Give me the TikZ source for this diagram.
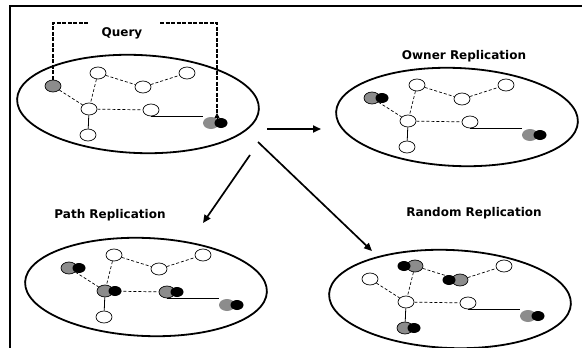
\documentclass[tikz,border=0pt]{standalone}
\usepackage{fontspec}
\newfontfamily\labelfont{DejaVu Sans}
\usetikzlibrary{shapes.geometric,arrows.meta,calc}

\tikzset{
  ring/.style={draw, ellipse, line width=1.8pt, minimum width=242pt, minimum height=98pt, inner sep=0pt, rotate=-2.4},
  peer/.style={draw, ellipse, line width=0.7pt, fill=white, minimum width=16pt, minimum height=12pt, inner sep=0pt},
  holder/.style={peer, fill={rgb,255:red,140;green,140;blue,140}},
  replica/.style={ellipse, fill=black, minimum width=13pt, minimum height=10pt, inner sep=0pt},
  link/.style={line width=0.7pt, dash pattern=on 3pt off 2pt},
  solidlink/.style={line width=0.8pt},
  datalink/.style={line width=1.1pt},
  querypath/.style={line width=1.1pt, dash pattern=on 4pt off 1.5pt},
  flow/.style={line width=1.7pt, -{Triangle[length=8pt,width=7pt]}},
  caption/.style={font=\labelfont\bfseries\fontsize{12}{14}\selectfont, inner sep=0pt},
  frame/.style={line width=1.6pt}
}

% overlay links between the peers of one network
\newcommand{\netlinks}[1]{%
  \draw[link] (#1a) -- (#1e);
  \draw[link] (#1b) -- (#1e);
  \draw[link] (#1b) -- (#1c);
  \draw[link] (#1c) -- (#1d);
  \draw[link] (#1e) -- (#1f);
  \draw[solidlink] (#1e) -- (#1g);
  \draw[datalink] (#1f.south) -- (#1f.south -| #1h.west);
}

\begin{document}
\begin{tikzpicture}[x=1pt, y=-1pt]
\useasboundingbox (0,0) rectangle (582,348);

% frame
\coordinate (fl) at (10,348);
\coordinate (ftl) at (10,6);
\coordinate (ftr) at (582,6);
\draw[frame] (fl) -- (ftl) -- (ftr);

% ---------- initial query ----------
\node[ring] (ring1) at (138,104) {};
\node[holder] (n1a) at (53,86) {};
\node[peer] (n1b) at (98,73) {};
\node[peer] (n1c) at (143,87) {};
\node[peer] (n1d) at (187,73) {};
\node[peer] (n1e) at (89,109) {};
\node[peer] (n1f) at (151,110) {};
\node[peer] (n1g) at (88,135) {};
\node[holder, draw=none] (n1h) at (211,123) {};
\node[replica] (n1hr) at ([xshift=10pt]n1h.center) {};
\netlinks{n1}

\node[caption] (query) at (122,33) {Query};
\coordinate (qa) at (53,23);
\coordinate (qb) at (88,23);
\coordinate (qc) at (160,23);
\coordinate (qd) at (217,23);
\coordinate (qe) at (217,113);
\draw[querypath] (n1a.north) -- (qa) -- (qb);
\draw[querypath] (qc) -- (qd) -- (qe);
\draw[line width=0.8pt, -{Triangle[length=5pt,width=5pt]}] ([yshift=-6pt]qe) -- (qe);

% ---------- owner replication ----------
\node[caption] (owner) at (464,56) {Owner Replication};
\begin{scope}[shift={(319,12)}]
\node[ring] (ring2) at (138,105) {};
\node[holder] (n2a) at (53,86) {};
\node[peer] (n2b) at (98,73) {};
\node[peer] (n2c) at (143,87) {};
\node[peer] (n2d) at (187,73) {};
\node[peer] (n2e) at (89,109) {};
\node[peer] (n2f) at (151,110) {};
\node[peer] (n2g) at (88,135) {};
\node[holder, draw=none] (n2h) at (211,123) {};
\node[replica] (n2ar) at ([xshift=10pt]n2a.center) {};
\node[replica] (n2hr) at ([xshift=10pt]n2h.center) {};
\netlinks{n2}
\end{scope}

% ---------- path replication ----------
\node[caption] (path) at (110,215) {Path Replication};
\begin{scope}[shift={(16,182)}]
\node[ring] (ring3) at (130,105) {};
\node[holder] (n3a) at (53,86) {};
\node[peer] (n3b) at (98,73) {};
\node[peer] (n3c) at (143,87) {};
\node[peer] (n3d) at (187,73) {};
\node[holder] (n3e) at (89,109) {};
\node[holder] (n3f) at (151,110) {};
\node[peer] (n3g) at (88,135) {};
\node[holder, draw=none] (n3h) at (211,123) {};
\node[replica] (n3ar) at ([xshift=10pt]n3a.center) {};
\node[replica] (n3er) at ([xshift=10pt]n3e.center) {};
\node[replica] (n3fr) at ([xshift=10pt]n3f.center) {};
\node[replica] (n3hr) at ([xshift=10pt]n3h.center) {};
\netlinks{n3}
\end{scope}

% ---------- random replication ----------
\node[caption] (random) at (474,213) {Random Replication};
\begin{scope}[shift={(317,193)}]
\node[ring] (ring4) at (133,106) {};
\node[peer] (n4a) at (53,86) {};
\node[holder] (n4b) at (98,73) {};
\node[holder] (n4c) at (143,87) {};
\node[peer] (n4d) at (187,73) {};
\node[peer] (n4e) at (89,109) {};
\node[peer] (n4f) at (151,110) {};
\node[holder] (n4g) at (88,135) {};
\node[holder, draw=none] (n4h) at (211,123) {};
\node[replica] (n4br) at ([xshift=-11pt]n4b.center) {};
\node[replica] (n4cr) at ([xshift=-11pt]n4c.center) {};
\node[replica] (n4gr) at ([xshift=9pt]n4g.center) {};
\node[replica] (n4hr) at ([xshift=10pt]n4h.center) {};
\netlinks{n4}
\end{scope}

% ---------- transitions ----------
\coordinate (s1) at (267,129);
\coordinate (t1) at (321,129);
\coordinate (s2) at (250,155);
\coordinate (t2) at (203,223);
\coordinate (s3) at (258,142);
\coordinate (t3) at (372,251);
\draw[flow] (s1) -- (t1);
\draw[flow] (s2) -- (t2);
\draw[flow] (s3) -- (t3);
\end{tikzpicture}
\end{document}
